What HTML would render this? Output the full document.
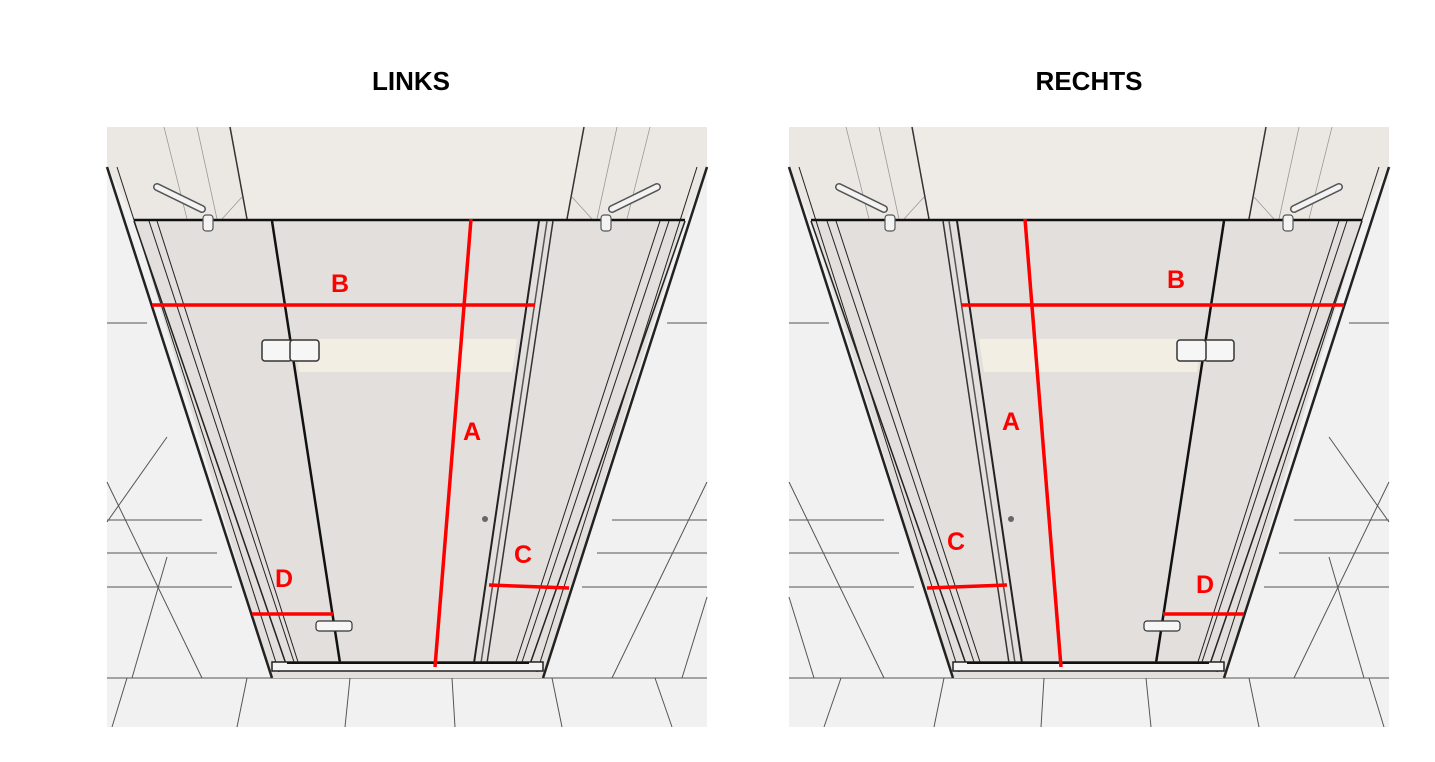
<!DOCTYPE html>
<html><head><meta charset="utf-8"><style>
html,body{margin:0;padding:0;background:#fff;}
svg{display:block;}
text{font-family:"Liberation Sans",sans-serif;font-weight:bold;}
</style></head><body>
<svg width="1435" height="762" viewBox="0 0 1435 762" xmlns="http://www.w3.org/2000/svg">
<defs>
<g id="panel">
  <rect x="0" y="0" width="600" height="600" fill="#f1f1f1"/>
  <!-- ceiling -->
  <polygon points="0,0 600,0 600,42 578,94 27,94 0,38" fill="#ebe8e4"/>
  <polygon points="125,0 475,0 462,92 138,92" fill="#eeebe7"/>
  <line x1="123" y1="0" x2="140" y2="92" stroke="#333" stroke-width="1.5"/>
  <line x1="477" y1="0" x2="460" y2="92" stroke="#333" stroke-width="1.5"/>
  <line x1="57" y1="0" x2="80" y2="92" stroke="#999" stroke-width="0.8"/>
  <line x1="90" y1="0" x2="110" y2="92" stroke="#999" stroke-width="0.8"/>
  <line x1="543" y1="0" x2="520" y2="92" stroke="#999" stroke-width="0.8"/>
  <line x1="510" y1="0" x2="490" y2="92" stroke="#999" stroke-width="0.8"/>
  <line x1="115" y1="92" x2="135" y2="70" stroke="#999" stroke-width="0.8"/>
  <line x1="485" y1="92" x2="465" y2="70" stroke="#999" stroke-width="0.8"/>
  <!-- wall tiles -->
  <g stroke="#555" stroke-width="1" fill="none">
    <line x1="0" y1="196" x2="40" y2="196"/>
    <line x1="560" y1="196" x2="600" y2="196"/>
    <line x1="0" y1="393" x2="95" y2="393"/>
    <line x1="505" y1="393" x2="600" y2="393"/>
    <line x1="0" y1="426" x2="110" y2="426"/>
    <line x1="490" y1="426" x2="600" y2="426"/>
    <line x1="0" y1="460" x2="125" y2="460"/>
    <line x1="475" y1="460" x2="600" y2="460"/>
    <line x1="0" y1="551" x2="600" y2="551"/>
    <line x1="0" y1="355" x2="95" y2="551"/>
    <line x1="0" y1="395" x2="60" y2="310"/>
    <line x1="60" y1="430" x2="25" y2="551"/>
    <line x1="20" y1="551" x2="5" y2="600"/>
    <line x1="140" y1="551" x2="130" y2="600"/>
    <line x1="243" y1="551" x2="238" y2="600"/>
    <line x1="345" y1="551" x2="348" y2="600"/>
    <line x1="445" y1="551" x2="455" y2="600"/>
    <line x1="548" y1="551" x2="565" y2="600"/>
    <line x1="600" y1="355" x2="505" y2="551"/>
    <line x1="600" y1="470" x2="575" y2="551"/>
  </g>
  <!-- shower interior -->
  <polygon points="27,94 578,94 436,551 165,551" fill="#e2dfdc"/>
  <polygon points="188,212 410,212 405,245 192,245" fill="#f3eee3"/>
  <!-- frames left -->
  <g stroke="#222" fill="none">
    <line x1="0" y1="40" x2="165" y2="551" stroke-width="2.5"/>
    <line x1="10" y1="40" x2="172" y2="545" stroke-width="1"/>
    <line x1="27" y1="94" x2="180" y2="540" stroke-width="1.5"/>
    <line x1="42" y1="94" x2="188" y2="538" stroke-width="1"/>
    <line x1="50" y1="94" x2="192" y2="538" stroke-width="1"/>
    <line x1="600" y1="40" x2="436" y2="551" stroke-width="2.5"/>
    <line x1="590" y1="40" x2="430" y2="545" stroke-width="1"/>
    <line x1="578" y1="94" x2="422" y2="540" stroke-width="1.5"/>
    <line x1="562" y1="94" x2="414" y2="538" stroke-width="1"/>
    <line x1="553" y1="94" x2="408" y2="538" stroke-width="1"/>
  </g>
  <!-- top edge -->
  <line x1="27" y1="93" x2="578" y2="93" stroke="#111" stroke-width="2.5"/>
  <!-- door hinge edge -->
  <line x1="165" y1="94" x2="233" y2="536" stroke="#111" stroke-width="2.5"/>
  <!-- column right -->
  <line x1="432" y1="94" x2="367" y2="536" stroke="#222" stroke-width="2"/>
  <line x1="440" y1="94" x2="374" y2="536" stroke="#555" stroke-width="1.5"/>
  <line x1="446" y1="94" x2="380" y2="536" stroke="#333" stroke-width="1.5"/>
  <!-- threshold -->
  <rect x="165" y="535" width="271" height="9" fill="#f4f4f4" stroke="#222" stroke-width="1.5"/>
  <line x1="180" y1="536" x2="422" y2="536" stroke="#111" stroke-width="2"/>
  <!-- hinges -->
  <rect x="155" y="213" width="30" height="21" rx="3" fill="#f6f6f6" stroke="#333" stroke-width="1.5"/>
  <rect x="183" y="213" width="29" height="21" rx="3" fill="#f6f6f6" stroke="#333" stroke-width="1.5"/>
  <rect x="209" y="494" width="36" height="10" rx="3" fill="#f6f6f6" stroke="#333" stroke-width="1.2"/>
  <circle cx="378" cy="392" r="3" fill="#666"/>
  <!-- brackets -->
  <path d="M50,60 L95,82" stroke="#555" stroke-width="8" stroke-linecap="round"/>
  <path d="M50,60 L95,82" stroke="#f3f3f3" stroke-width="5" stroke-linecap="round"/>
  <rect x="96" y="88" width="10" height="16" rx="3" fill="#f3f3f3" stroke="#555" stroke-width="1.2"/>
  <path d="M550,60 L505,82" stroke="#555" stroke-width="8" stroke-linecap="round"/>
  <path d="M550,60 L505,82" stroke="#f3f3f3" stroke-width="5" stroke-linecap="round"/>
  <rect x="494" y="88" width="10" height="16" rx="3" fill="#f3f3f3" stroke="#555" stroke-width="1.2"/>
  <!-- red measure lines -->
  <g stroke="#f00" stroke-width="3.5">
    <line x1="45" y1="178" x2="428" y2="178"/>
    <line x1="364" y1="92" x2="328" y2="540"/>
    <line x1="382" y1="458" x2="462" y2="461"/>
    <line x1="145" y1="487" x2="226" y2="487"/>
  </g>
</g>
</defs>
<text x="411" y="90" font-size="26" text-anchor="middle" fill="#000">LINKS</text>
<text x="1089" y="90" font-size="26" text-anchor="middle" fill="#000">RECHTS</text>
<use href="#panel" transform="translate(107,127)"/>
<use href="#panel" transform="translate(1389,127) scale(-1,1)"/>
<g fill="#f00" font-size="25">
  <text x="340" y="292" text-anchor="middle">B</text>
  <text x="472" y="440" text-anchor="middle">A</text>
  <text x="523" y="563" text-anchor="middle">C</text>
  <text x="284" y="587" text-anchor="middle">D</text>
  <text x="1176" y="288" text-anchor="middle">B</text>
  <text x="1011" y="430" text-anchor="middle">A</text>
  <text x="956" y="550" text-anchor="middle">C</text>
  <text x="1205" y="593" text-anchor="middle">D</text>
</g>
</svg>
</body></html>
